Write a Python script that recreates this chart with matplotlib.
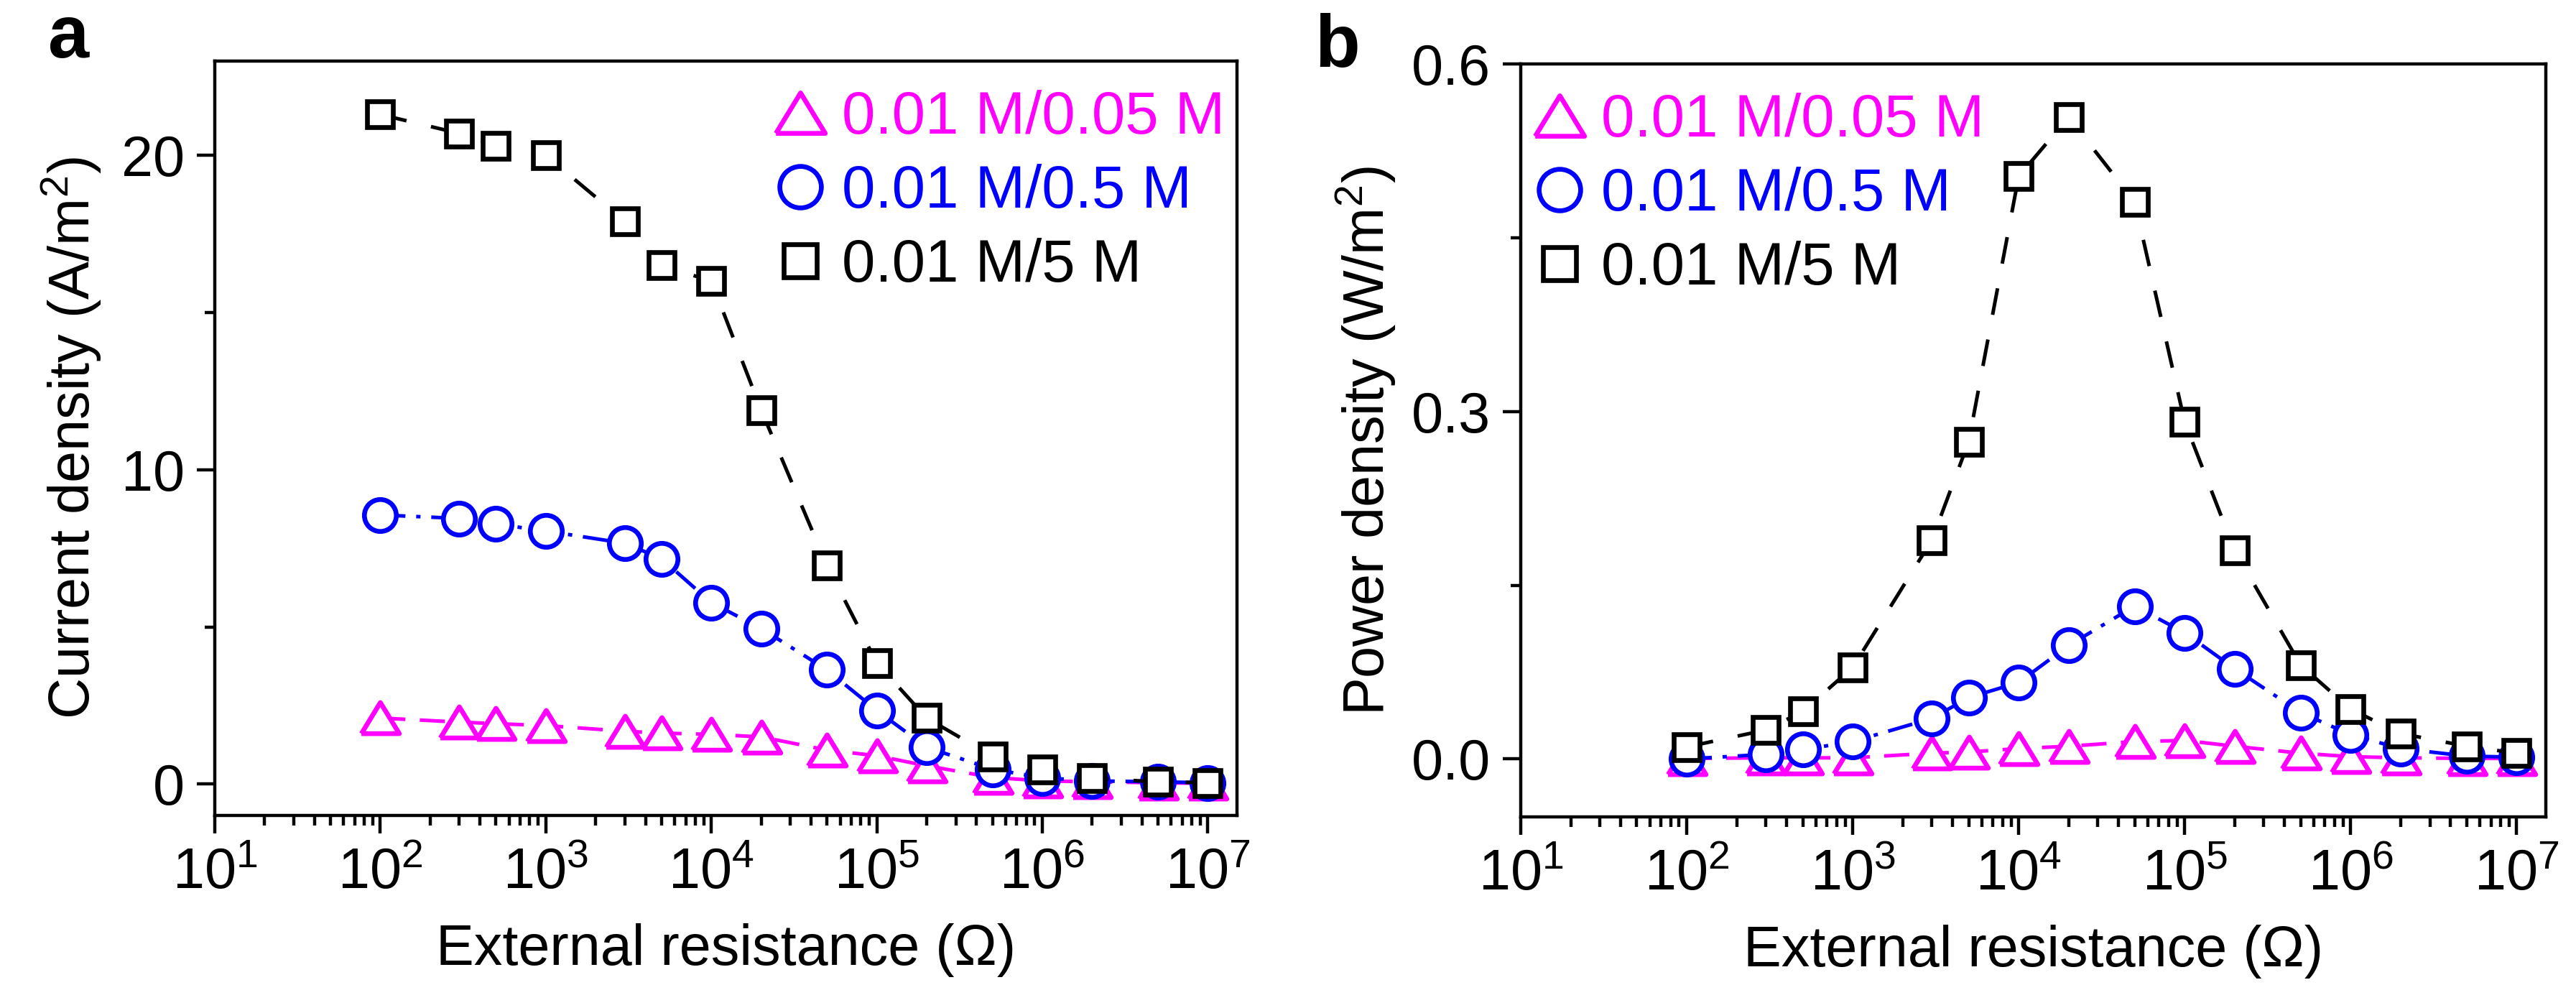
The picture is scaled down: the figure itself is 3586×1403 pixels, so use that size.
import matplotlib
matplotlib.use("Agg")
import matplotlib.pyplot as plt
from matplotlib.lines import Line2D
from matplotlib.ticker import LogLocator, LogFormatterSciNotation, NullFormatter, MultipleLocator
import numpy as np

plt.rcParams['font.family'] = ['Liberation Sans', 'DejaVu Sans']
plt.rcParams['mathtext.fontset'] = 'custom'
plt.rcParams['mathtext.rm'] = 'Liberation Sans'
plt.rcParams['mathtext.it'] = 'Liberation Sans:italic'
plt.rcParams['mathtext.bf'] = 'Liberation Sans:bold'

# ---------------- data ----------------
resistance = [1e2, 3e2, 5e2, 1e3, 3e3, 5e3, 1e4, 2e4, 5e4, 1e5, 2e5, 5e5, 1e6, 2e6, 5e6, 1e7]
series_labels = ['0.01 M/0.05 M', '0.01 M/0.5 M', '0.01 M/5 M']
series_colors = ['#FF00FF', '#0000FF', '#000000']

current_005 = [2.1, 1.97, 1.92, 1.86, 1.68, 1.62, 1.58, 1.5, 1.08, 0.9, 0.58, 0.21, 0.1, 0.07, 0.04, 0.02]
current_05 = [8.56, 8.45, 8.27, 8.05, 7.66, 7.17, 5.77, 4.95, 3.63, 2.34, 1.17, 0.47, 0.2, 0.1, 0.07, 0.04]
current_5 = [21.3, 20.7, 20.3, 20.0, 17.9, 16.5, 16.0, 11.9, 6.95, 3.85, 2.1, 0.88, 0.47, 0.18, 0.07, 0.04]

power_005 = [0.0004, 0.001, 0.001, 0.001, 0.005, 0.006, 0.009, 0.011, 0.015, 0.016, 0.011, 0.005, 0.002, 0.001, 0.0005, 0.0004]
power_05 = [0.0, 0.004, 0.008, 0.015, 0.035, 0.053, 0.066, 0.098, 0.132, 0.109, 0.078, 0.040, 0.021, 0.009, 0.0025, 0.0015]
power_5 = [0.0104, 0.025, 0.041, 0.079, 0.189, 0.274, 0.503, 0.554, 0.481, 0.291, 0.180, 0.081, 0.043, 0.022, 0.011, 0.005]

x_ticks = [1e1, 1e2, 1e3, 1e4, 1e5, 1e6, 1e7]
a_yticks = [0, 10, 20]
b_yticks = [0.0, 0.3, 0.6]

# ---------------- style ----------------
W, H = 3586, 1403
DPI = 100
fig = plt.figure(figsize=(W / DPI, H / DPI), dpi=DPI)

tri = [(-1, -0.82), (1, -0.82), (0, 0.82), (-1, -0.82)]
markers = [tri, 'o', 's']
msizes = [38, 32, 26]
dashes = [(7, 4), (7, 3, 1.2, 3), (7.5, 7)]
FS = 57
LW_SPINE = 3.2
LW = 3.6
MEW = 4.8


def px_rect(l, t, r, b):
    return [l / W, 1 - b / H, (r - l) / W, (b - t) / H]


def style_axes(ax):
    ax.set_xscale('log')
    ax.set_xlim(10, 1.5e7)
    for side in ['left', 'right', 'top', 'bottom']:
        ax.spines[side].set_linewidth(LW_SPINE)
    ax.xaxis.set_major_locator(LogLocator(base=10, numticks=20))
    ax.xaxis.set_minor_locator(LogLocator(base=10, subs=np.arange(2, 10), numticks=20))
    ax.xaxis.set_major_formatter(LogFormatterSciNotation())
    ax.xaxis.set_minor_formatter(NullFormatter())
    ax.set_xticks(x_ticks)
    ax.tick_params(axis='both', which='major', direction='out', length=18, width=LW_SPINE,
                   labelsize=FS, top=False, right=False)
    ax.tick_params(axis='both', which='minor', direction='out', length=10, width=LW_SPINE,
                   top=False, right=False)
    ax.tick_params(axis='x', which='major', pad=14)
    ax.tick_params(axis='y', which='major', pad=12)


def plot_series(ax, ys):
    for y, c, m, ms, d in zip(ys, series_colors, markers, msizes, dashes):
        ax.plot(resistance, y, color=c, lw=LW, dashes=d, marker=m, ms=ms,
                mfc='white', mec=c, mew=MEW)


def add_legend(ax, x0, y0):
    handles = [Line2D([], [], linestyle='none', marker=m, ms=ms, mfc='white', mec=c, mew=MEW)
               for m, ms, c in zip(markers, msizes, series_colors)]
    leg = ax.legend(handles, series_labels, loc='upper left', bbox_to_anchor=(x0, y0),
                    frameon=False, fontsize=60, handlelength=0.6, handletextpad=0.4,
                    labelspacing=0.3, borderpad=0, borderaxespad=0, labelcolor=series_colors,
                    markerscale=1.3)
    return leg


# panel a
axa = fig.add_axes(px_rect(299, 85, 1722, 1135))
plot_series(axa, [current_005, current_05, current_5])
style_axes(axa)
axa.set_ylim(-1, 23)
axa.set_yticks(a_yticks)
axa.yaxis.set_minor_locator(MultipleLocator(5))
axa.set_xlabel('External resistance (Ω)', fontsize=FS, labelpad=22)
axa.set_ylabel('Current density (A/m$^2$)', fontsize=FS, labelpad=18)
add_legend(axa, 0.555, 0.962)

# panel b
axb = fig.add_axes(px_rect(2117, 89, 3544, 1137))
plot_series(axb, [power_005, power_05, power_5])
style_axes(axb)
axb.set_ylim(-0.05, 0.6)
axb.set_yticks(b_yticks)
axb.set_yticklabels(['0.0', '0.3', '0.6'])
axb.yaxis.set_minor_locator(MultipleLocator(0.15))
axb.set_xlabel('External resistance (Ω)', fontsize=FS, labelpad=22)
axb.set_ylabel('Power density (W/m$^2$)', fontsize=FS, labelpad=14)
add_legend(axb, 0.02, 0.962)

fig.text(67 / W, 1 - 80 / H, 'a', fontsize=74, fontweight='bold', va='baseline', ha='left')
fig.text(1830 / W, 1 - 93 / H, 'b', fontsize=74, fontweight='bold', va='baseline', ha='left')

fig.savefig('out.png', dpi=DPI)
